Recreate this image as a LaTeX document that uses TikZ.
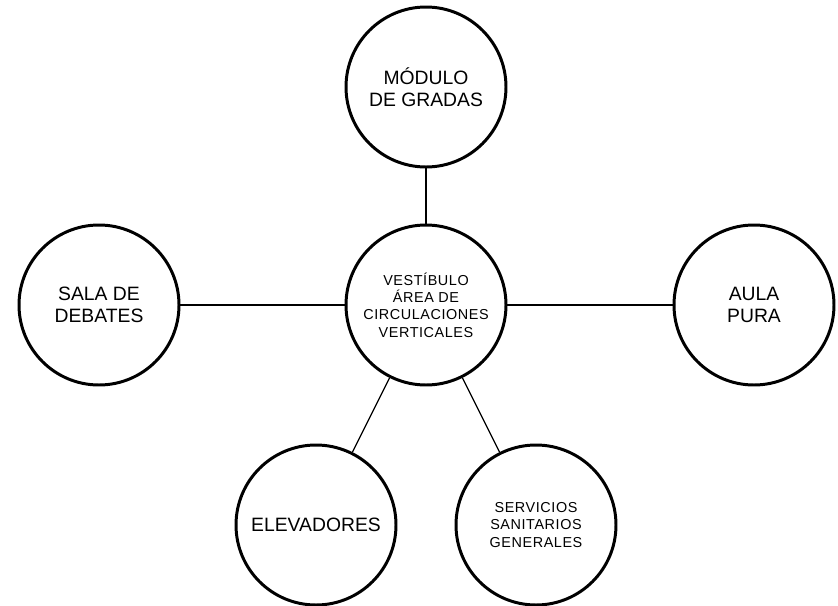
\documentclass[tikz,border=0pt]{standalone}
\usepackage{fontspec}
\setmainfont{Liberation Sans}
\usepackage{tikz}
\usetikzlibrary{positioning}

\begin{document}
\begin{tikzpicture}[
    x=1cm, y=1cm,
    espacio/.style={draw, circle, line width=1.7pt, minimum size=3.2cm,
                    inner sep=0pt, align=center, font=\fontsize{11}{12.5}\selectfont},
    nucleo/.style={espacio, font=\fontsize{8.2}{9.9}\selectfont\addfontfeatures{LetterSpace=4}},
    enlace/.style={line width=0.75pt}
]
\useasboundingbox (0,0) rectangle (16.76,-12.12);

\node[nucleo] (vestibulo) at (8.52,-6.10)
    {VESTÍBULO\\ÁREA DE\\CIRCULACIONES\\VERTICALES};
\node[espacio] (gradas) at (8.52,-1.74) {MÓDULO\\DE GRADAS};
\node[espacio] (debates) at (1.98,-6.10) {SALA DE\\DEBATES};
\node[espacio] (aula) at (15.08,-6.10) {AULA\\PURA};
\node[espacio] (elevadores) at (6.32,-10.50) {ELEVADORES};
\node[nucleo] (servicios) at (10.72,-10.50) {SERVICIOS\\SANITARIOS\\GENERALES};

\draw[enlace] (gradas) -- (vestibulo);
\draw[enlace] (debates) -- (vestibulo);
\draw[enlace] (vestibulo) -- (aula);
\draw[enlace] (vestibulo) -- (elevadores);
\draw[enlace] (vestibulo) -- (servicios);
\end{tikzpicture}
\end{document}
